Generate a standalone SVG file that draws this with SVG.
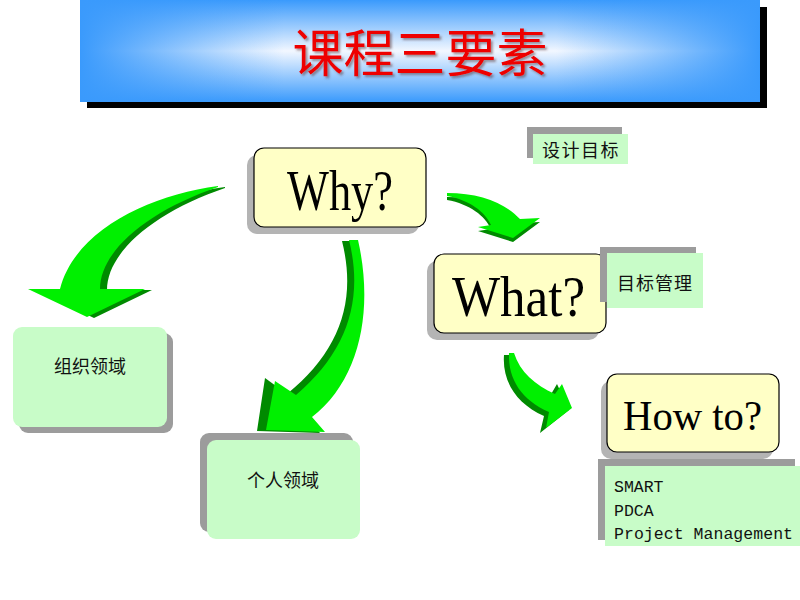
<svg xmlns="http://www.w3.org/2000/svg" width="800" height="600" viewBox="0 0 800 600">
<defs>
<linearGradient id="gv" x1="0" y1="0" x2="0" y2="1">
<stop offset="0" stop-color="#3a9afc"/>
<stop offset="0.5" stop-color="#f2f7ff"/>
<stop offset="1" stop-color="#3a9afc"/>
</linearGradient>
<linearGradient id="gh" x1="0" y1="0" x2="1" y2="0">
<stop offset="0" stop-color="#3a9afc" stop-opacity="1"/>
<stop offset="0.3" stop-color="#3a9afc" stop-opacity="0"/>
<stop offset="0.7" stop-color="#3a9afc" stop-opacity="0"/>
<stop offset="1" stop-color="#3a9afc" stop-opacity="1"/>
</linearGradient>
<filter id="ts" x="-5%" y="-20%" width="110%" height="140%">
<feDropShadow dx="2" dy="2" stdDeviation="1" flood-color="#553333" flood-opacity="0.5"/>
</filter>
<style>
.yb{fill:#ffffc6;stroke:#000;stroke-width:1.2}
.ysh{fill:#b4b4b4}
.gb{fill:#c8fcc8}
.gsh{fill:#9c9c9c}
.big{font-family:"Liberation Serif",serif;fill:#000}
.cjk{font-family:"Noto Sans CJK SC",sans-serif;font-size:18px;fill:#111}
.mono{font-family:"Liberation Mono",monospace;font-size:16.5px;fill:#111}
.ar{fill:#00f000}
.ad{fill:#008a00}
</style>
</defs>
<rect width="800" height="600" fill="#fff"/>
<g id="title">
<rect x="87" y="7" width="680" height="101" fill="#000"/>
<rect x="80" y="0" width="680" height="102" fill="url(#gv)"/>
<rect x="80" y="0" width="680" height="102" fill="url(#gh)"/>
<text x="420" y="72" text-anchor="middle" font-family="Noto Sans CJK SC,sans-serif" font-size="51" fill="#ee0000" filter="url(#ts)">课程三要素</text>
</g>
<g id="connectors">
<g id="arrow-org">
<path class="ad" transform="translate(7,1)" d="M218,186 C150,195 75,230 60,289 L28,289 L87,317 L145,289 L100,289 C100,250 150,210 218,187 Z"/>
<path class="ar" d="M218,186 C150,195 75,230 60,289 L28,289 L87,317 L145,289 L100,289 C100,250 150,210 218,187 Z"/>
</g>
<g id="arrow-personal">
<path class="ad" transform="translate(-5,1)" d="M347,240 C362,300 345,350 292,393 L270,377 L262,430 L325,432 L312,417 C360,380 374,310 358,240 Z"/>
<path class="ar" d="M349,240 C364,300 347,352 296,395 L275,381 L266,430 L325,432 L312,417 C360,380 374,310 358,240 Z"/>
</g>
<g id="arrow-what">
<path class="ad" transform="translate(0,4)" d="M447,193 C480,193 505,203 520,219 L540,218 L513,238 L478,227 L491,225 C485,212 470,200 447,196 Z"/>
<path class="ar" d="M447,193 C480,193 505,203 520,219 L540,218 L513,238 L478,227 L491,225 C485,212 470,200 447,196 Z"/>
</g>
<g id="arrow-how">
<path class="ad" transform="translate(-3,2)" d="M507,353 C505,380 520,402 547,414 L543,431 L572,408 L560,382 L553,394 C533,385 518,372 513,353 Z"/>
<path class="ar" d="M509,353 C508,380 522,400 549,412 L546,428 L572,408 L562,384 L555,394 C535,385 520,372 514,353 Z"/>
</g>
</g>
<g id="why">
<rect class="ysh" x="247" y="155" width="172" height="79" rx="10"/>
<rect class="yb" x="254" y="148" width="172" height="79" rx="10"/>
<text class="big" x="287" y="210" font-size="56" textLength="106" lengthAdjust="spacingAndGlyphs">Why?</text>
</g>
<g id="what">
<rect class="ysh" x="427" y="261" width="172" height="79" rx="10"/>
<rect class="yb" x="434" y="254" width="172" height="79" rx="10"/>
<text class="big" x="452" y="316" font-size="58" textLength="133" lengthAdjust="spacingAndGlyphs">What?</text>
</g>
<g id="how">
<rect class="ysh" x="601" y="381" width="172" height="78" rx="10"/>
<rect class="yb" x="607" y="374" width="172" height="78" rx="10"/>
<text class="big" x="623" y="430" font-size="43" textLength="139" lengthAdjust="spacingAndGlyphs">How to?</text>
</g>
<g id="org">
<rect class="gsh" x="19" y="333" width="154" height="100" rx="9"/>
<rect class="gb" x="13" y="327" width="154" height="100" rx="9"/>
<text class="cjk" x="90" y="373" text-anchor="middle" font-size="19">组织领域</text>
</g>
<g id="personal">
<rect class="gsh" x="200" y="433" width="153" height="99" rx="9"/>
<rect class="gb" x="207" y="440" width="153" height="99" rx="9"/>
<text class="cjk" x="283" y="487" text-anchor="middle" font-size="19">个人领域</text>
</g>
<g id="label-design">
<rect class="gsh" x="527" y="127" width="95" height="31"/>
<rect class="gb" x="533" y="134" width="95" height="30"/>
<text class="cjk" x="542" y="157" letter-spacing="1.5">设计目标</text>
</g>
<g id="label-mbo">
<rect class="gsh" x="600" y="247" width="96" height="55"/>
<rect class="gb" x="607" y="253" width="96" height="55"/>
<text class="cjk" x="617" y="290" letter-spacing="1">目标管理</text>
</g>
<g id="label-methods">
<rect class="gsh" x="598" y="459" width="197" height="81"/>
<rect class="gb" x="605" y="466" width="195" height="80"/>
<text class="mono" x="614" y="492">SMART</text>
<text class="mono" x="614" y="516">PDCA</text>
<text class="mono" x="614" y="539" textLength="179">Project Management</text>
</g>
</svg>
